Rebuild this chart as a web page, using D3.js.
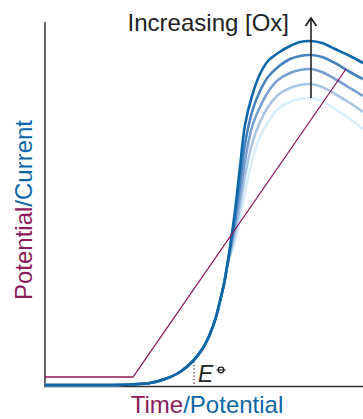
<!DOCTYPE html>
<html><head><meta charset="utf-8">
<script src="https://cdn.jsdelivr.net/npm/d3@7"></script>
<style>html,body{margin:0;padding:0;background:#fff;}svg{display:block;}</style>
</head><body>
<svg id="chart" width="363" height="419"></svg>
<script>
// Shared rising foot of the current curves (x: potential units, y: current units)
const footX = [0, 55, 85, 105, 120, 135, 148, 158, 165, 171, 175, 179, 182];
const footY = [0, 0, 0.5, 2, 6, 13, 24, 37, 51, 68, 84, 101, 118];
// Upper part, where the curves separate
const upperX = [185, 190, 195, 200, 207, 215, 223, 233, 245, 255, 266, 277, 290, 305, 318];
const currentSeries = [
  [128, 143, 166, 193, 224, 248, 263, 276, 283, 286, 287, 284, 276, 266, 256],
  [130, 151, 178, 209, 241, 263, 278, 290, 297, 300, 301, 298, 291, 282, 273],
  [133, 159, 190, 224, 258, 278, 293, 305, 312, 315, 316, 313, 306, 297, 289],
  [135, 166, 203, 241, 273, 294, 308, 318, 326, 329, 330, 328, 322, 313, 306],
  [138, 174, 218, 260, 289, 311, 324, 332, 339, 343, 344, 342, 336, 329, 322]
];
const seriesColors = ["#d9eefa", "#a8c6e4", "#789fcd", "#4682bd", "#0b67a7"];
// Potential vs time ramp
const rampX = [0, 88, 301];
const rampY = [8, 8, 316];
// Arrow and E° marker positions in data units
const arrowX = 266, arrowY0 = 287, arrowY1 = 367;
const eZeroX = 149;

const svg = d3.select("#chart");
const x = d3.scaleLinear().domain([0, 318]).range([45, 363]);
const y = d3.scaleLinear().domain([0, 364]).range([385, 21]);

const purple = "#8c1a5c", blue = "#0b67a7";

// axes (bare lines)
svg.append("line").attr("x1", x(0)).attr("x2", x(0)).attr("y1", y(363)).attr("y2", 387)
  .attr("stroke", "#333").attr("stroke-width", 1.5);
svg.append("line").attr("x1", x(0) - 0.75).attr("x2", x(318)).attr("y1", 386.5).attr("y2", 386.5)
  .attr("stroke", "#333").attr("stroke-width", 1.5);

// E° dotted line
svg.append("line").attr("x1", x(eZeroX)).attr("x2", x(eZeroX)).attr("y1", 358).attr("y2", 386)
  .attr("stroke", "#222").attr("stroke-width", 1.2).attr("stroke-dasharray", "1.2,2.3");

const line = d3.line().x(d => x(d[0])).y(d => y(d[1])).curve(d3.curveCatmullRom.alpha(0.5));

currentSeries.forEach((s, i) => {
  const pts = footX.map((v, j) => [v, footY[j]]).concat(upperX.map((v, j) => [v, s[j]]));
  svg.append("path").datum(pts).attr("d", line)
    .attr("fill", "none").attr("stroke", seriesColors[i]).attr("stroke-width", 2.6);
});

// ramp
svg.append("path").datum(rampX.map((v, j) => [v, rampY[j]]))
  .attr("d", d3.line().x(d => x(d[0])).y(d => y(d[1])))
  .attr("fill", "none").attr("stroke", purple).attr("stroke-width", 1.3);

// arrow
svg.append("line").attr("x1", x(arrowX)).attr("x2", x(arrowX)).attr("y1", y(arrowY0)).attr("y2", y(arrowY1))
  .attr("stroke", "#222").attr("stroke-width", 1.6);
svg.append("path")
  .attr("d", `M${x(arrowX) - 5.5},${y(arrowY1) + 8} L${x(arrowX)},${y(arrowY1)} L${x(arrowX) + 5.5},${y(arrowY1) + 8}`)
  .attr("fill", "none").attr("stroke", "#222").attr("stroke-width", 1.8);

const font = "'Liberation Sans', Arial, Helvetica, sans-serif";
svg.append("text").attr("x", 289).attr("y", 31).attr("text-anchor", "end")
  .attr("font-family", font).attr("font-size", 24).attr("fill", "#222").text("Increasing [Ox]");

// E°
svg.append("text").attr("x", 198).attr("y", 382).attr("font-family", font).attr("font-style", "italic")
  .attr("font-size", 23).attr("fill", "#222").text("E");
svg.append("circle").attr("cx", 221).attr("cy", 370).attr("r", 2.8).attr("fill", "none").attr("stroke", "#222").attr("stroke-width", 1.3);
svg.append("line").attr("x1", 216.5).attr("x2", 225.5).attr("y1", 370).attr("y2", 370).attr("stroke", "#222").attr("stroke-width", 1.2);

// axis titles
const xt = svg.append("text").attr("x", 207).attr("y", 413).attr("text-anchor", "middle")
  .attr("font-family", font).attr("font-size", 24);
xt.append("tspan").attr("fill", purple).text("Time");
xt.append("tspan").attr("fill", blue).text("/Potential");

const yt = svg.append("text").attr("transform", "translate(32,210) rotate(-90)").attr("text-anchor", "middle")
  .attr("font-family", font).attr("font-size", 24);
yt.append("tspan").attr("fill", purple).text("Potential");
yt.append("tspan").attr("fill", blue).text("/Current");
</script>
</body></html>
